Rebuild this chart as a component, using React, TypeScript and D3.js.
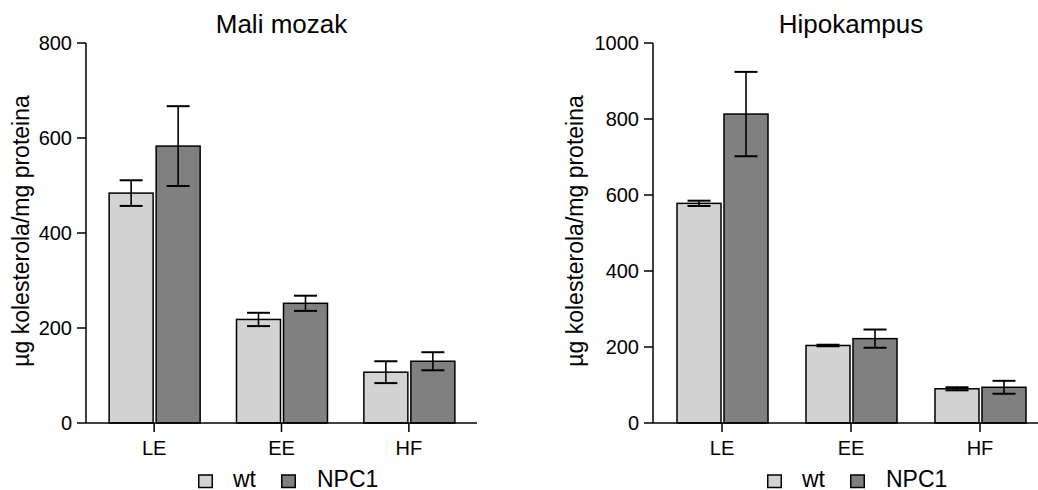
import React from "react";
import * as d3 from "d3";

const categories = ["LE", "EE", "HF"];
const seriesNames = ["wt", "NPC1"];
const seriesColors = ["#d3d3d3", "#808080"];

const maliTitle = "Mali mozak";
const maliWt = [484, 218, 107];
const maliWtErr = [27, 14, 23];
const maliNpc = [583, 252, 130];
const maliNpcErr = [84, 16, 19];
const maliTicks = [0, 200, 400, 600, 800];

const hipoTitle = "Hipokampus";
const hipoWt = [578, 204, 90];
const hipoWtErr = [7, 2, 4];
const hipoNpc = [813, 222, 94];
const hipoNpcErr = [111, 24, 17];
const hipoTicks = [0, 200, 400, 600, 800, 1000];

const yLabel = "µg kolesterola/mg proteina";
const FONT = "'Liberation Sans', Arial, Helvetica, sans-serif";

type PanelProps = {
  title: string;
  values: number[][];
  errors: number[][];
  ticks: number[];
  x0: number;
  x1: number;
  labelX: number;
  legendX: number;
};

function Panel({ title, values, errors, ticks, x0, x1, labelX, legendX }: PanelProps) {
  const yTop = 43;
  const yBot = 423;
  const y = d3.scaleLinear().domain([0, ticks[ticks.length - 1]]).range([yBot, yTop]);
  const x = d3.scalePoint<string>().domain(categories).range([x0, x1]).padding(0.535);
  const inner = d3.scaleBand<string>().domain(seriesNames).range([-45, 46]).paddingInner(0.064);
  const bw = inner.bandwidth();
  const capW = 23;
  const cx = (x0 + x1) / 2;
  return (
    <g>
      <text x={cx} y={33} textAnchor="middle" fontSize={26} fontFamily={FONT} fill="#000">
        {title}
      </text>
      <text
        transform={`translate(${labelX},231) rotate(-90)`}
        textAnchor="middle"
        fontSize={23}
        fontFamily={FONT}
        fill="#000"
      >
        {yLabel}
      </text>
      {categories.map((c, ci) =>
        seriesNames.map((s, si) => {
          const v = values[si][ci];
          const bx = (x(c) as number) + (inner(s) as number);
          return (
            <rect
              key={c + s}
              x={bx}
              y={y(v)}
              width={bw}
              height={y(0) - y(v)}
              fill={seriesColors[si]}
              stroke="#000"
              strokeWidth={1.5}
            />
          );
        })
      )}
      {categories.map((c, ci) =>
        seriesNames.map((s, si) => {
          const v = values[si][ci];
          const e = errors[si][ci];
          const mx = (x(c) as number) + (inner(s) as number) + bw / 2;
          return (
            <g key={"e" + c + s} stroke="#000" strokeWidth={1.6}>
              <line x1={mx} x2={mx} y1={y(v + e)} y2={y(v - e)} />
              <line x1={mx - capW / 2} x2={mx + capW / 2} y1={y(v + e)} y2={y(v + e)} strokeWidth={2} />
              <line x1={mx - capW / 2} x2={mx + capW / 2} y1={y(v - e)} y2={y(v - e)} strokeWidth={2} />
            </g>
          );
        })
      )}
      <line x1={x0} x2={x0} y1={yTop} y2={yBot} stroke="#000" strokeWidth={1.5} />
      {ticks.map((t) => (
        <g key={"t" + t}>
          <line x1={x0 - 9} x2={x0} y1={y(t)} y2={y(t)} stroke="#000" strokeWidth={1.5} />
          <text x={x0 - 14} y={y(t)} dy="0.36em" textAnchor="end" fontSize={20} fontFamily={FONT} fill="#000">
            {t}
          </text>
        </g>
      ))}
      <line x1={x0} x2={x1} y1={yBot} y2={yBot} stroke="#000" strokeWidth={1.5} />
      {categories.map((c) => (
        <g key={"x" + c}>
          <line x1={x(c)} x2={x(c)} y1={yBot} y2={yBot + 9} stroke="#000" strokeWidth={1.5} />
          <text x={x(c)} y={455} textAnchor="middle" fontSize={20} fontFamily={FONT} fill="#000">
            {c}
          </text>
        </g>
      ))}
      <g>
        <rect x={legendX + 0.75} y={475} width={13.5} height={12.5} fill={seriesColors[0]} stroke="#000" strokeWidth={1.5} />
        <text x={legendX + 35} y={487} fontSize={23} fontFamily={FONT} fill="#000">
          {seriesNames[0]}
        </text>
        <rect x={legendX + 83.75} y={475} width={13.5} height={12.5} fill={seriesColors[1]} stroke="#000" strokeWidth={1.5} />
        <text x={legendX + 119} y={487} fontSize={23} fontFamily={FONT} fill="#000">
          {seriesNames[1]}
        </text>
      </g>
    </g>
  );
}

export default function App() {
  return (
    <>
      <style>{`body{margin:0}`}</style>
      <svg width={1038} height={490} style={{ display: "block", background: "#fff" }}>
        <Panel
          title={maliTitle}
          values={[maliWt, maliNpc]}
          errors={[maliWtErr, maliNpcErr]}
          ticks={maliTicks}
          x0={86}
          x1={477}
          labelX={29}
          legendX={198}
        />
        <Panel
          title={hipoTitle}
          values={[hipoWt, hipoNpc]}
          errors={[hipoWtErr, hipoNpcErr]}
          ticks={hipoTicks}
          x0={653}
          x1={1049}
          labelX={583}
          legendX={767}
        />
      </svg>
    </>
  );
}
